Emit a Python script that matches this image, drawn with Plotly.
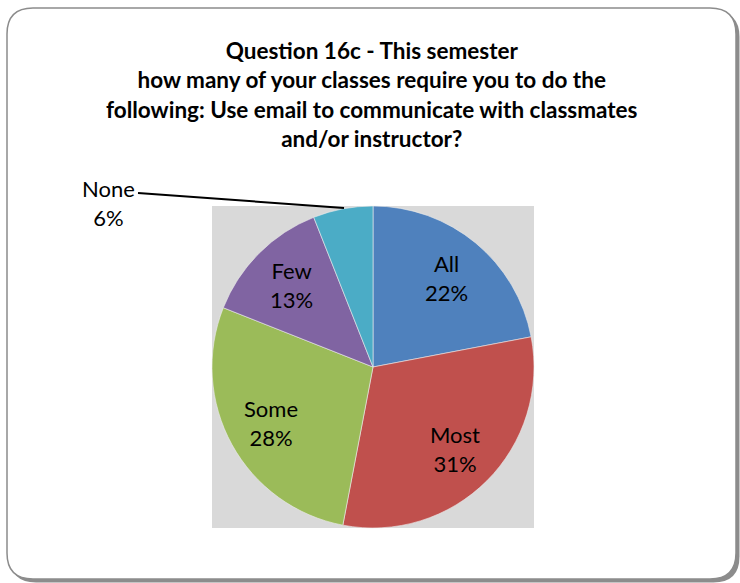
import math
import plotly.graph_objects as go

labels = ["All", "Most", "Some", "Few", "None"]
values = [22, 31, 28, 13, 6]
colors = ["#4F81BD", "#C0504D", "#9BBB59", "#8064A2", "#4BACC6"]
title_lines = [
    "Question 16c - This semester",
    "how many of your classes require you to do the",
    "following: Use email to communicate with classmates",
    "and/or instructor?",
]

W, H = 740, 583
FONT = "Lato, Carlito, 'Liberation Sans', sans-serif"

# pie square in pixels
px0, px1, py0, py1 = 212, 534, 206, 528
xd = [px0 / W, px1 / W]
yd = [1 - py1 / H, 1 - py0 / H]
cx, cy, R = (px0 + px1) / 2, (py0 + py1) / 2, (px1 - px0) / 2

total = sum(values)
pct = [round(v / total * 100) for v in values]

fig = go.Figure()
fig.add_trace(go.Pie(
    labels=labels, values=values, sort=False, direction="clockwise", rotation=0,
    marker=dict(colors=colors, line=dict(color="#EDEDED", width=0.6)),
    textinfo="none", domain=dict(x=xd, y=yd), showlegend=False,
    hoverinfo="label+percent",
))

def rr(x0, y0, x1, y1, r):
    def P(x, y):
        return f"{x / W:.5f},{1 - y / H:.5f}"
    return (f"M {P(x0 + r, y0)} L {P(x1 - r, y0)} Q {P(x1, y0)} {P(x1, y0 + r)} "
            f"L {P(x1, y1 - r)} Q {P(x1, y1)} {P(x1 - r, y1)} L {P(x0 + r, y1)} "
            f"Q {P(x0, y1)} {P(x0, y1 - r)} L {P(x0, y0 + r)} Q {P(x0, y0)} {P(x0 + r, y0)} Z")

shapes = [
    dict(type="path", xref="paper", yref="paper", path=rr(10, 11, 739.5, 582.5, 26),
         fillcolor="#8C8C8C", line=dict(width=0), layer="below"),
    dict(type="path", xref="paper", yref="paper", path=rr(7, 8, 736, 579, 26),
         fillcolor="#FFFFFF", line=dict(color="#8C8C8C", width=1.5), layer="below"),
    dict(type="rect", xref="paper", yref="paper", x0=xd[0], x1=xd[1], y0=yd[0], y1=yd[1],
         fillcolor="#D9D9D9", line=dict(width=0), layer="below"),
    dict(type="line", xref="paper", yref="paper", x0=138 / W, y0=1 - 193 / H,
         x1=344 / W, y1=1 - 208 / H, line=dict(color="#000000", width=2)),
]

annotations = [
    dict(text="<b>" + "<br>".join(title_lines) + "</b>", x=372 / W, y=1 - 35 / H,
         xref="paper", yref="paper", xanchor="center", yanchor="top", showarrow=False,
         font=dict(family=FONT, size=22.5, color="#000000"), align="center"),
    dict(text=f"{labels[-1]}<br>{pct[-1]}%", x=108 / W, y=1 - 203 / H,
         xref="paper", yref="paper", xanchor="center", yanchor="middle", showarrow=False,
         font=dict(family=FONT, size=22, color="#000000"), align="center"),
]

# inside labels along slice bisectors (Excel-style, ~0.72 R)
cum = 0
for l, v, p in zip(labels[:-1], values[:-1], pct[:-1]):
    mid = (cum + v / 2) / total * 2 * math.pi
    cum += v
    x = cx + 0.72 * R * math.sin(mid)
    y = cy - 0.72 * R * math.cos(mid)
    annotations.append(dict(text=f"{l}<br>{p}%", x=x / W, y=1 - y / H, xref="paper",
                            yref="paper", xanchor="center", yanchor="middle",
                            showarrow=False, align="center",
                            font=dict(family=FONT, size=22, color="#000000")))

fig.update_layout(
    width=W, height=H, margin=dict(l=0, r=0, t=0, b=0),
    paper_bgcolor="#FFFFFF", plot_bgcolor="#FFFFFF",
    shapes=shapes, annotations=annotations,
)
fig.write_html("out.html", config={"displayModeBar": False},
               post_script="document.body.style.margin='0';document.body.style.overflow='hidden';")
